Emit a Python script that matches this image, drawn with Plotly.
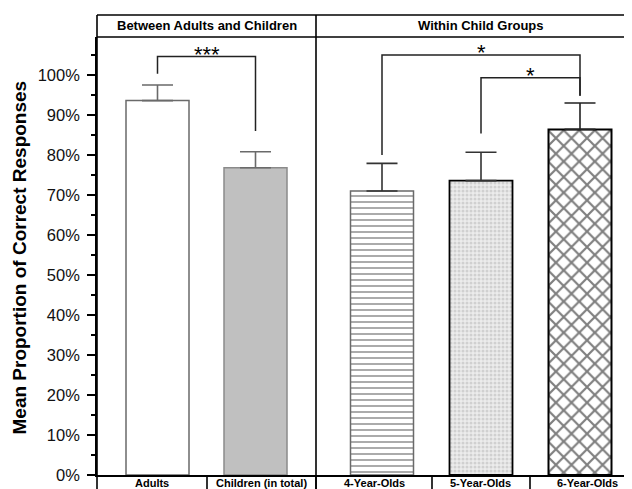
import plotly.graph_objects as go

# ---------------- data ----------------
CATEGORIES = ["Adults", "Children (in total)", "4-Year-Olds", "5-Year-Olds", "6-Year-Olds"]
MEANS = [93.6, 76.8, 71.0, 73.6, 86.4]          # mean % correct
ERRORS = [3.9, 4.0, 6.9, 7.1, 6.6]              # upper error (SE) in %
PANELS = ["Between Adults and Children", "Within Child Groups"]
TICK_VALUES = [0, 10, 20, 30, 40, 50, 60, 70, 80, 90, 100]
TICK_LABELS = [f"{v}%" for v in TICK_VALUES]
SIG_PAIRS = [(0, 1), (2, 4), (3, 4)]
SIG_LABELS = ["***", "*", "*"]

# ---------------- layout (pixel geometry, in window coordinates) ----------------
PAGE_OFF = 8                             # default page margin of the browser body
WIN_W, WIN_H = 632, 489
W, H = WIN_W - PAGE_OFF, WIN_H - PAGE_OFF
L, R, T, B = 97, 632, 37, 475            # plot-area box in window px
BAR_X = [157.5, 255.5, 382, 481, 580]    # bar centres (x axis in window-px units)
BAR_W = 63
CELL_EDGES = [97, 207, 316, 432, 530, 645]
PANEL_EDGES = [97, 316, 645]
SIG_LEVEL = [104.6, 105.0, 99.3]
SIG_ENDS = [(100.3, 86.0), (80.0, 94.8), (85.4, 94.8)]

def px(x):
    return (x - L) / (R - L)

def py(y):
    return (B - y) / (B - T)

FONT = "Liberation Sans, Arial, sans-serif"

styles = [
    dict(color="white", line=dict(color="#6a6a6a", width=1.5)),
    dict(color="#c0c0c0", line=dict(color="#8a8a8a", width=1.5)),
    dict(color="white", line=dict(color="#6a6a6a", width=1.5),
         pattern=dict(shape="-", size=6, solidity=0.3, fgcolor="#444444", bgcolor="white", fillmode="overlay")),
    dict(color="#e6e6e6", line=dict(color="black", width=1.8),
         pattern=dict(shape=".", size=4, solidity=0.45, fgcolor="#b4b4b4", bgcolor="#ececec", fillmode="overlay")),
    dict(color="white", line=dict(color="black", width=2),
         pattern=dict(shape="x", size=11, solidity=0.36, fgcolor="black", bgcolor="white", fillmode="overlay")),
]
err_colors = ["#6a6a6a", "#6a6a6a", "#333333", "#333333", "#222222"]

fig = go.Figure()
for i, cat in enumerate(CATEGORIES):
    fig.add_trace(go.Bar(
        x=[BAR_X[i]], y=[MEANS[i]], width=BAR_W, name=cat,
        marker=styles[i],
        error_y=dict(type="data", symmetric=False, array=[ERRORS[i]], arrayminus=[0],
                     color=err_colors[i], thickness=1.6, width=15.5),
        showlegend=False,
    ))

shapes = []
line = dict(color="black", width=1.6)
# header frame
shapes.append(dict(type="line", xref="paper", yref="paper", x0=px(L), x1=px(WIN_W + 20), y0=py(15), y1=py(15), line=line))
shapes.append(dict(type="line", xref="paper", yref="paper", x0=px(L), x1=px(WIN_W + 20), y0=py(T), y1=py(T), line=line))
# full-height panel edges
for xe in PANEL_EDGES[:2]:
    shapes.append(dict(type="line", xref="paper", yref="paper", x0=px(xe), x1=px(xe), y0=py(15), y1=py(WIN_H + 5), line=line))
# category cell dividers in label row
for xe in CELL_EDGES[1:-1]:
    shapes.append(dict(type="line", xref="paper", yref="paper", x0=px(xe), x1=px(xe), y0=py(B), y1=py(WIN_H + 5), line=line))

# significance brackets
annotations = []
for k, (i, j) in enumerate(SIG_PAIRS):
    lvl = SIG_LEVEL[k]
    e0, e1 = SIG_ENDS[k]
    path = f"M {BAR_X[i]},{e0} L {BAR_X[i]},{lvl} L {BAR_X[j]},{lvl} L {BAR_X[j]},{e1}"
    shapes.append(dict(type="path", xref="x", yref="y", path=path, line=dict(color="#222222", width=1.5)))
    annotations.append(dict(x=(BAR_X[i] + BAR_X[j]) / 2, y=lvl + 0.6, xref="x", yref="y",
                            text=SIG_LABELS[k], showarrow=False, yanchor="middle",
                            font=dict(family=FONT, size=22, color="black")))

# panel headers
for p, name in enumerate(PANELS):
    annotations.append(dict(x=px((PANEL_EDGES[p] + PANEL_EDGES[p + 1]) / 2), y=py(26),
                            xref="paper", yref="paper", text=f"<b>{name}</b>", showarrow=False,
                            xanchor="center", yanchor="middle",
                            font=dict(family=FONT, size=13, color="black")))

# category labels
for c, cat in enumerate(CATEGORIES):
    annotations.append(dict(x=px((CELL_EDGES[c] + CELL_EDGES[c + 1]) / 2), y=py(483),
                            xref="paper", yref="paper", text=f"<b>{cat}</b>", showarrow=False,
                            xanchor="center", yanchor="middle",
                            font=dict(family=FONT, size=11, color="black")))

# y title
annotations.append(dict(x=px(19.5), y=py(258), xref="paper", yref="paper",
                        text="<b>Mean Proportion of Correct Responses</b>", textangle=-90,
                        showarrow=False, xanchor="center", yanchor="middle",
                        font=dict(family=FONT, size=19, color="black")))

fig.update_layout(
    width=W, height=H,
    margin=dict(l=L - PAGE_OFF, r=W - (R - PAGE_OFF), t=T - PAGE_OFF, b=H - (B - PAGE_OFF), pad=0),
    paper_bgcolor="white", plot_bgcolor="white",
    barmode="overlay", showlegend=False,
    shapes=shapes, annotations=annotations,
    font=dict(family=FONT, color="black"),
)
fig.update_xaxes(range=[L, R], showticklabels=False, ticks="", showgrid=False, zeroline=False,
                 showline=True, linecolor="black", linewidth=1.6, fixedrange=True)
fig.update_yaxes(range=[0, (B - T) / 4], tickvals=TICK_VALUES, ticktext=TICK_LABELS,
                 ticks="outside", ticklen=8, tickwidth=1.5, tickcolor="black",
                 ticklabelstandoff=4,
                 tickfont=dict(family=FONT, size=16.5, color="#111111"),
                 minor=dict(tickmode="linear", tick0=0, dtick=5, ticks="outside", ticklen=4,
                            tickwidth=1.5, tickcolor="black", showgrid=False),
                 showgrid=False, zeroline=False, showline=True, linecolor="black", linewidth=1.6,
                 fixedrange=True)

fig.write_html("out.html")
